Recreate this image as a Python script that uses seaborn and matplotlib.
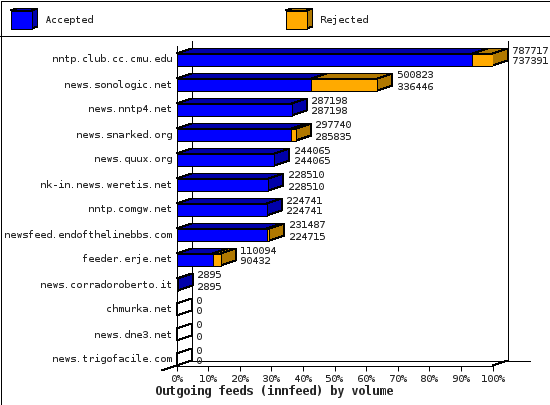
import matplotlib
matplotlib.use("Agg")
import matplotlib.pyplot as plt
import seaborn as sns
import numpy as np
from matplotlib.patches import Polygon, Rectangle
from matplotlib.transforms import ScaledTranslation

hosts = ["nntp.club.cc.cmu.edu", "news.sonologic.net", "news.nntp4.net", "news.snarked.org",
         "news.quux.org", "nk-in.news.weretis.net", "nntp.comgw.net", "newsfeed.endofthelinebbs.com",
         "feeder.erje.net", "news.corradoroberto.it", "chmurka.net", "news.dne3.net", "news.trigofacile.com"]
offered = [787717, 500823, 287198, 297740, 244065, 228510, 224741, 231487, 110094, 2895, 0, 0, 0]
accepted = [737391, 336446, 287198, 285835, 244065, 228510, 224741, 224715, 90432, 2895, 0, 0, 0]
pct_ticks = [0, 10, 20, 30, 40, 50, 60, 70, 80, 90, 100]

BLUE, DARK_BLUE = "#0000ff", "#0000aa"
ORANGE, DARK_ORANGE = "#ffaa00", "#b07800"
W, H = 550, 405
LW = 0.72  # one pixel at dpi 100

sns.set_style("white")
plt.rcParams["font.family"] = ["DejaVu Sans Mono"]
plt.rcParams["text.hinting"] = "native"
plt.rcParams["text.hinting_factor"] = 1
plt.rcParams["font.size"] = 7.5


def main():
    fig = plt.figure(figsize=(W / 100, H / 100), dpi=100)

    # page frame and legend live in a pixel-sized overlay
    page = fig.add_axes([0, 0, 1, 1])
    page.set_xlim(0, W)
    page.set_ylim(H, 0)
    page.axis("off")
    page.add_patch(Rectangle((0.5, 0.5), W - 1, H - 1, fc="none", ec="k", lw=LW, aa=False))
    page.plot([0, W], [35.5, 35.5], color="k", lw=LW, aa=False)
    for x0, front, side, name in [(10.5, BLUE, DARK_BLUE, "Accepted"), (285.5, ORANGE, DARK_ORANGE, "Rejected")]:
        page.add_patch(Polygon([(x0, 10.5), (x0 + 6, 8.5), (x0 + 27, 8.5), (x0 + 21, 10.5)], fc=side, ec="k", lw=LW, aa=False))
        page.add_patch(Polygon([(x0 + 21, 10.5), (x0 + 27, 8.5), (x0 + 27, 26.5), (x0 + 21, 28.5)], fc=side, ec="k", lw=LW, aa=False))
        page.add_patch(Rectangle((x0, 10.5), 21, 18, fc=front, ec="k", lw=LW, aa=False))
        page.text(x0 + 34.5, 20, name, va="center", ha="left")
    page.text(274, 392, "Outgoing feeds (innfeed) by volume", ha="center", va="center",
              fontsize=8.6, fontweight="bold")

    # plot area: front plane runs 176.5-492.5 px, 45.5-365.5 px
    ax = fig.add_axes([176.5 / W, 1 - 365.5 / H, 316 / W, 320 / H])
    ax.patch.set_alpha(0)
    off_pct = np.array(offered) / max(offered) * 100
    acc_pct = np.array(accepted) / max(offered) * 100

    bar_h = 12 / 25
    sns.barplot(x=off_pct, y=hosts, color=ORANGE, saturation=1, width=bar_h,
                edgecolor="k", linewidth=LW, ax=ax)
    sns.barplot(x=acc_pct, y=hosts, color=BLUE, saturation=1, width=bar_h,
                edgecolor="k", linewidth=LW, ax=ax)
    for p in ax.patches:
        p.set_antialiased(False)
        p.set_zorder(3)

    ax.set_xlim(0, 100)
    ax.set_ylim(12.24, -0.56)
    dx = 15 / 3.16
    dy = 5 / 25

    # walls and floor of the 3d box
    y_top, y_bot = -0.56, 12.24
    wall = dict(color="k", lw=LW, aa=False, clip_on=False, zorder=1)
    ax.plot([dx, dx], [y_top - dy, y_bot - dy], **wall)
    ax.plot([100 + dx, 100 + dx], [y_top - dy, y_bot - dy], **wall)
    ax.plot([dx, 100 + dx + 7], [y_bot - dy, y_bot - dy], **wall)
    ax.plot([-dx, dx], [y_bot + dy, y_bot - dy], **wall)
    ax.plot([100, 100 + dx], [y_bot, y_bot - dy], **wall)

    # top and side faces of each bar
    face = dict(ec="k", lw=LW, aa=False, clip_on=False, zorder=2)
    for i, (a, o) in enumerate(zip(acc_pct, off_pct)):
        t, b = i - bar_h / 2, i + bar_h / 2
        if o > 0:
            ax.add_patch(Polygon([(0, t), (dx, t - dy), (a + dx, t - dy), (a, t)], fc=DARK_BLUE, **face))
            if o > a:
                ax.add_patch(Polygon([(a, t), (a + dx, t - dy), (o + dx, t - dy), (o, t)], fc=DARK_ORANGE, **face))
        side = DARK_ORANGE if o > a else DARK_BLUE
        ax.add_patch(Polygon([(o, t), (o + dx, t - dy), (o + dx, b - dy), (o, b)],
                             fc=side if o > 0 else "none", **face))
        ax.text(o + dx + 4.5 / 3.16, i - 9 / 25, str(offered[i]), ha="left", va="center", clip_on=False, zorder=4)
        ax.text(o + dx + 4.5 / 3.16, i + 2 / 25, str(accepted[i]), ha="left", va="center", clip_on=False, zorder=4)

    sns.despine(ax=ax, top=True, right=True)
    for name in ["left", "bottom"]:
        ax.spines[name].set_linewidth(LW)
        ax.spines[name].set_color("k")
        ax.spines[name].set_antialiased(False)
    ax.set_xticks(pct_ticks)
    ax.set_xticklabels([f"{v}%" for v in pct_ticks], fontsize=7.5)
    ax.tick_params(axis="x", length=3.6, width=LW, color="k", pad=2.5, bottom=True)
    ax.tick_params(axis="y", length=0, pad=3.5, labelsize=7.5)
    ax.set_xlabel("")
    ax.set_ylabel("")

    # nudge host names up one pixel
    nudge = ScaledTranslation(0, 1 / 100, fig.dpi_scale_trans)
    for label in ax.get_yticklabels():
        label.set_transform(label.get_transform() + nudge)

    fig.savefig("out.png", dpi=100)
    plt.close(fig)


if __name__ == "__main__":
    main()
